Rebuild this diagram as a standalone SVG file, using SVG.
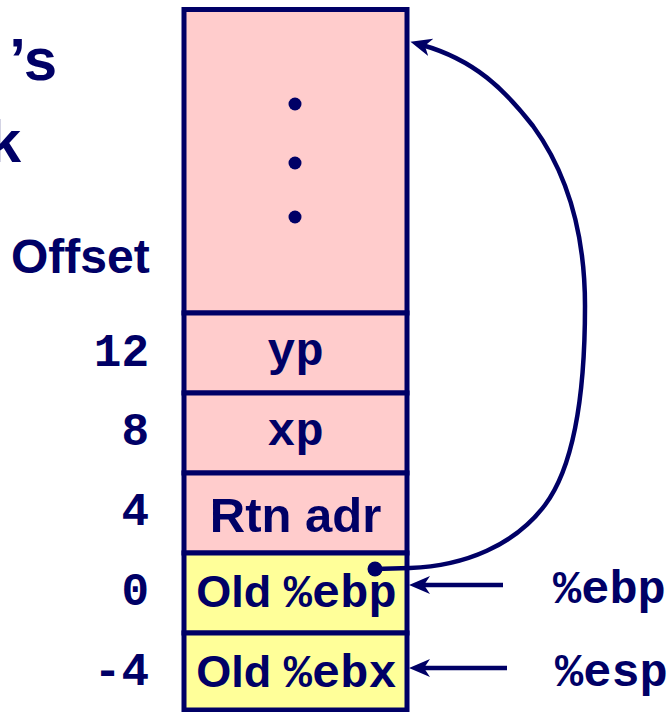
<svg xmlns="http://www.w3.org/2000/svg" width="671" height="712" viewBox="0 0 671 712">
  <style>
    .cell { stroke: #000066; stroke-width: 5; }
    .pink { fill: #ffcccc; }
    .yellow { fill: #ffff99; }
    .sans { font-family: "Liberation Sans", Arial, sans-serif; font-weight: bold; fill: #000066; }
    .mono { font-family: "Liberation Mono", "Courier New", monospace; font-weight: bold; fill: #000066; }
    .conn { fill: none; stroke: #000066; stroke-width: 4.5; }
  </style>
  <defs>
    <marker id="ah" viewBox="0 0 22 20" markerWidth="22" markerHeight="20" refX="9" refY="10" orient="auto" markerUnits="userSpaceOnUse">
      <path d="M0,1 L21,10 L0,19 L6,10 Z" fill="#000066"/>
    </marker>
  </defs>

  <g id="title">
    <text class="sans" x="57" y="80" font-size="60" text-anchor="end">’s</text>
    <text class="sans" x="21" y="162" font-size="60" text-anchor="end">k</text>
  </g>

  <g id="offset-header">
    <text class="sans" x="11" y="273" font-size="48">Offset</text>
  </g>

  <g id="offsets">
    <text class="mono" x="149" y="366" font-size="46" text-anchor="end">12</text>
    <text class="mono" x="149" y="445" font-size="46" text-anchor="end">8</text>
    <text class="mono" x="149" y="525" font-size="46" text-anchor="end">4</text>
    <text class="mono" x="149" y="605" font-size="46" text-anchor="end">0</text>
    <text class="mono" x="149" y="685" font-size="46" text-anchor="end">-4</text>
  </g>

  <g id="caller-frame">
    <rect class="cell pink" x="184" y="9.5" width="223" height="303.5"/>
    <circle cx="295" cy="104" r="6.5" fill="#000066"/>
    <circle cx="295" cy="163" r="6.5" fill="#000066"/>
    <circle cx="295" cy="217" r="6.5" fill="#000066"/>
  </g>
  <g id="yp">
    <rect class="cell pink" x="184" y="313" width="223" height="80"/>
    <text class="mono" x="295.5" y="365" font-size="47" text-anchor="middle">yp</text>
  </g>
  <g id="xp">
    <rect class="cell pink" x="184" y="393" width="223" height="80"/>
    <text class="mono" x="295.5" y="445" font-size="47" text-anchor="middle">xp</text>
  </g>
  <g id="rtn-adr">
    <rect class="cell pink" x="184" y="473" width="223" height="80"/>
    <text class="sans" x="295.5" y="532" font-size="49" text-anchor="middle">Rtn adr</text>
  </g>
  <g id="old-ebp">
    <rect class="cell yellow" x="184" y="553" width="223" height="80"/>
    <text class="sans" x="296.5" y="607" font-size="45" text-anchor="middle">Old <tspan class="mono" font-size="47">%ebp</tspan></text>
  </g>
  <g id="old-ebx">
    <rect class="cell yellow" x="184" y="633" width="223" height="77"/>
    <text class="sans" x="296.5" y="687" font-size="45" text-anchor="middle">Old <tspan class="mono" font-size="47">%ebx</tspan></text>
  </g>

  <g id="reg-ebp">
    <text class="mono" x="553" y="603" font-size="47">%ebp</text>
  </g>
  <g id="reg-esp">
    <text class="mono" x="555" y="686" font-size="47">%esp</text>
  </g>

  <g id="connectors">
    <line class="conn" x1="503" y1="585" x2="421" y2="585" marker-end="url(#ah)"/>
    <line class="conn" x1="507" y1="668" x2="421" y2="668" marker-end="url(#ah)"/>
    <circle cx="375" cy="569" r="7.5" fill="#000066"/>
    <path class="conn" d="M375,569 L410,568 C465,566 515,545 545,505 C575,465 585,390 585,306 C585,230 565,170 533,126 C505,90 475,60 422,45" marker-end="url(#ah)"/>
  </g>
</svg>
